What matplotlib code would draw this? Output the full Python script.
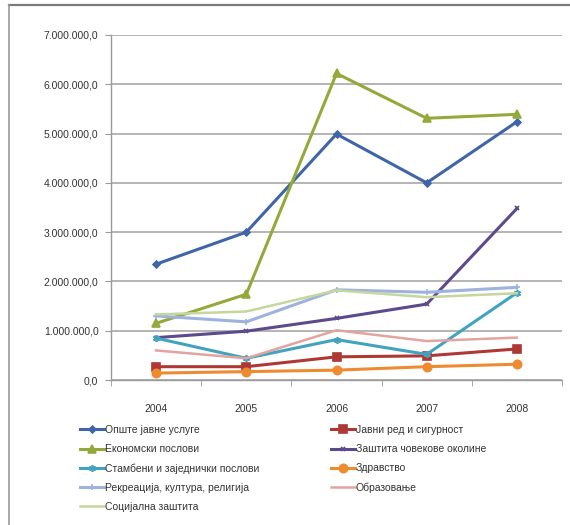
import matplotlib
matplotlib.use("Agg")
import matplotlib.pyplot as plt
from matplotlib.lines import Line2D

plt.rcParams['font.family'] = ['Liberation Sans Narrow', 'Liberation Sans', 'DejaVu Sans']

years = ['2004', '2005', '2006', '2007', '2008']
series_names = [
    'Опште јавне услуге',
    'Јавни ред и сигурност',
    'Економски послови',
    'Заштита човекове околине',
    'Стамбени и заједнички послови',
    'Здравство',
    'Рекреација, култура, религија',
    'Образовање',
    'Социјална заштита',
]
opste = [2350000, 3000000, 4990000, 4000000, 5240000]
javni_red = [270000, 270000, 470000, 490000, 630000]
ekonomski = [1150000, 1740000, 6220000, 5310000, 5390000]
zastita_okoline = [860000, 990000, 1250000, 1540000, 3480000]
stambeni = [850000, 440000, 820000, 520000, 1770000]
zdravstvo = [140000, 170000, 200000, 270000, 320000]
rekreacija = [1300000, 1180000, 1830000, 1780000, 1880000]
obrazovanje = [600000, 440000, 1010000, 790000, 860000]
socijalna = [1330000, 1390000, 1820000, 1680000, 1760000]

ytick_values = [0, 1000000, 2000000, 3000000, 4000000, 5000000, 6000000, 7000000]
ytick_labels = ['0,0', '1.000.000,0', '2.000.000,0', '3.000.000,0', '4.000.000,0',
                '5.000.000,0', '6.000.000,0', '7.000.000,0']

all_values = [opste, javni_red, ekonomski, zastita_okoline, stambeni,
              zdravstvo, rekreacija, obrazovanje, socijalna]
colors = ['#3F65A8', '#AE3934', '#93AA3B', '#5C4A8C', '#42A3BE',
          '#EE8A2F', '#9DB3DE', '#E2A4A1', '#C4D79C']
markers = ['D', 's', '^', 'x', (6, 2, 0), 'o', '+', None, None]
msizes = [3.5, 6, 6, 3.5, 5, 6, 5, 0, 0]
lws = [2.2, 2.2, 2.2, 2.2, 2.2, 2.2, 2.2, 1.8, 1.8]

fig = plt.figure(figsize=(5.7, 5.25), dpi=100)
W, H = 570, 525
ax = fig.add_axes([111 / W, (H - 380) / H, (562 - 111) / W, 345 / H])

x = list(range(len(years)))
handles = []
for vals, c, m, ms, lw, name in zip(all_values, colors, markers, msizes, lws, series_names):
    h, = ax.plot(x, vals, color=c, lw=lw, marker=m, markersize=ms,
                 markeredgecolor=c, markerfacecolor=c, markeredgewidth=1.2,
                 label=name, zorder=3)
    handles.append(h)

ax.set_xlim(-0.5, len(years) - 0.5)
ax.set_ylim(0, 7000000)
ax.set_yticks(ytick_values)
ax.set_yticklabels(ytick_labels)
ax.set_xticks(x)
ax.set_xticklabels(years)
ax.set_xticks([i - 0.5 for i in range(len(years) + 1)], minor=True)
ax.tick_params(axis='x', which='major', length=0, pad=17, labelsize=7.5, colors='#333333')
ax.tick_params(axis='x', which='minor', length=4, color='#9A9A9A', direction='out')
ax.tick_params(axis='y', length=4, color='#9A9A9A', pad=5, labelsize=7.5, labelcolor='#333333')
ax.grid(axis='y', color='#A8A8A8', lw=1.2, zorder=0)
for s in ['top', 'right']:
    ax.spines[s].set_visible(False)
for s in ['left', 'bottom']:
    ax.spines[s].set_color('#9A9A9A')
    ax.spines[s].set_linewidth(1)

# outer frame (top and left)
fig.add_artist(Line2D([9 / W, 1.0], [1 - 5 / H, 1 - 5 / H], color='#7A7A7A', lw=1.6,
                      transform=fig.transFigure))
fig.add_artist(Line2D([9 / W, 9 / W], [0, 1 - 5 / H], color='#9A9A9A', lw=1.2,
                      transform=fig.transFigure))

left_idx = [0, 2, 4, 6, 8]
right_idx = [1, 3, 5, 7]
leg_kw = dict(frameon=False, fontsize=7.5, handlelength=2.3, handletextpad=0.1,
              labelspacing=0.88, borderaxespad=0, borderpad=0)
leg1 = fig.legend([handles[i] for i in left_idx], [series_names[i] for i in left_idx],
                  loc='upper left', bbox_to_anchor=(80 / W, 1 - 425 / H), **leg_kw)
leg2 = fig.legend([handles[i] for i in right_idx], [series_names[i] for i in right_idx],
                  loc='upper left', bbox_to_anchor=(331 / W, 1 - 425 / H), **leg_kw)
for lg in (leg1, leg2):
    for t in lg.get_texts():
        t.set_color('#333333')

fig.savefig('out.png', dpi=100)
